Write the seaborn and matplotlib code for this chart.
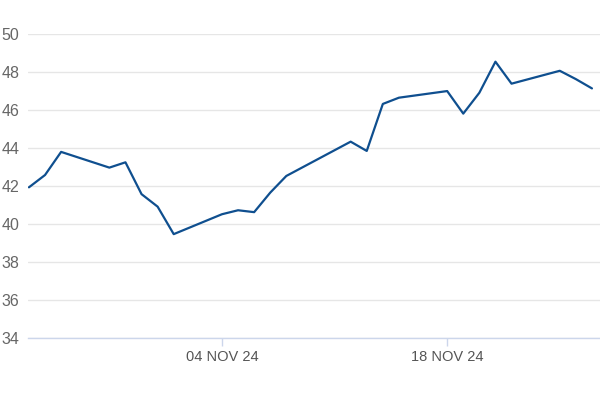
import pandas as pd
import matplotlib
matplotlib.use('Agg')
import matplotlib.pyplot as plt
import matplotlib.dates as mdates
import seaborn as sns

# ------------------------------------------------------------
# Data
# ------------------------------------------------------------
dates = ['2024-10-23', '2024-10-24', '2024-10-25', '2024-10-28', '2024-10-29',
         '2024-10-30', '2024-10-31', '2024-11-01', '2024-11-04', '2024-11-05',
         '2024-11-06', '2024-11-07', '2024-11-08', '2024-11-12', '2024-11-13',
         '2024-11-14', '2024-11-15', '2024-11-18', '2024-11-19', '2024-11-20',
         '2024-11-21', '2024-11-22', '2024-11-25', '2024-11-26', '2024-11-27']
prices = [41.93, 42.58, 43.80, 42.97, 43.25,
          41.57, 40.91, 39.46, 40.51, 40.72,
          40.62, 41.65, 42.53, 44.34, 43.85,
          46.33, 46.66, 47.01, 45.82, 46.92,
          48.56, 47.40, 48.08, 47.64, 47.15]
tick_dates = ['2024-11-04', '2024-11-18']
y_ticks = [34, 36, 38, 40, 42, 44, 46, 48, 50]

df = pd.DataFrame({'date': pd.to_datetime(dates), 'price': prices})

# ------------------------------------------------------------
# Plot
# ------------------------------------------------------------
sns.set_theme(style='white')
plt.rcParams['font.family'] = ['Liberation Sans', 'DejaVu Sans']

fig = plt.figure(figsize=(6, 4), dpi=100)
ax = fig.add_axes([0.046, 0.156, 0.954, 0.758])

sns.lineplot(data=df, x='date', y='price', ax=ax, color='#0f4f8f', linewidth=1.6)

ax.set_ylim(34, 50)
ax.set_yticks(y_ticks)
ax.set_xlim(pd.Timestamp('2024-10-22 22:00'), pd.Timestamp('2024-11-27 12:00'))
ax.set_xticks(pd.to_datetime(tick_dates))
ax.xaxis.set_major_formatter(
    plt.FuncFormatter(lambda v, pos: mdates.num2date(v).strftime('%d %b %y').upper()))

ax.grid(axis='y', color='#e6e6e6', linewidth=1)
ax.set_axisbelow(True)
for side in ['top', 'right', 'left']:
    ax.spines[side].set_visible(False)
ax.spines['bottom'].set_color('#ccd6eb')
ax.spines['bottom'].set_linewidth(1)

ax.tick_params(axis='y', length=0, pad=6, labelsize=11.5, labelcolor='#666666')
ax.tick_params(axis='x', length=6, width=1, color='#ccd6eb', pad=3,
               labelsize=10.5, labelcolor='#555555', bottom=True)
ax.set_xlabel('')
ax.set_ylabel('')

fig.savefig('out.png', dpi=100)
